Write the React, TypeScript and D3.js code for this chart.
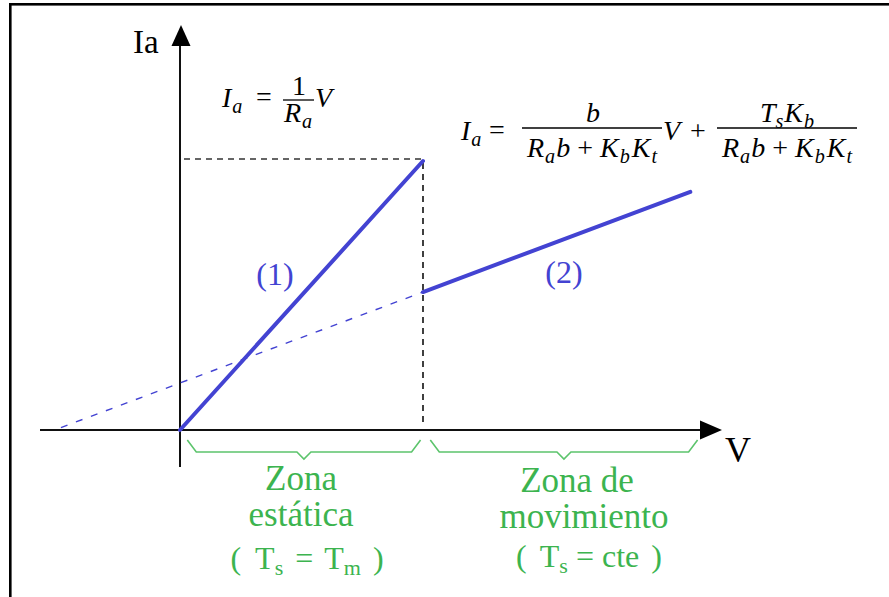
import React from "react";
import * as d3 from "d3";

// Characteristic Ia(V) of a DC motor: static zone and motion zone
const staticLine = [
  { v: 0, ia: 0 },
  { v: 1, ia: 1 },
];
const motionLine = [
  { v: 1, ia: 0.513 },
  { v: 2.1, ia: 0.885 },
];
const motionExtension = [
  { v: -0.49, ia: 0.009 },
  { v: 1, ia: 0.513 },
];
const breakPoint = { v: 1, ia: 1 };
const zones = [
  { from: 0.03, to: 0.99 },
  { from: 1.03, to: 2.13 },
];
const curveLabels = ["(1)", "(2)"];

const W = 889;
const H = 597;
const BLUE = "#4343d2";
const GREEN = "#3cb44f";
const BRACE = "#5cc46c";
const SERIF = "'Liberation Serif', 'Times New Roman', serif";

type Part = { t: string; sub?: boolean; up?: boolean; dx?: number };

function MathText({ x, y, parts, size, anchor = "start" }: { x: number; y: number; parts: Part[]; size: number; anchor?: string }) {
  let shifted = false;
  const spans = parts.map((p, i) => {
    let dy = 0;
    if (p.sub && !shifted) { dy = size * 0.22; shifted = true; }
    else if (!p.sub && shifted) { dy = -size * 0.22; shifted = false; }
    return (
      <tspan key={i} dy={dy || undefined} dx={p.dx} fontSize={p.sub ? size * 0.72 : size} fontStyle={p.up ? "normal" : "italic"}>
        {p.t}
      </tspan>
    );
  });
  return (
    <text x={x} y={y} fontFamily={SERIF} fontSize={size} textAnchor={anchor} fill="#000">
      {spans}
    </text>
  );
}

export default function App() {
  const x = d3.scaleLinear().domain([0, 1]).range([180, 423]);
  const y = d3.scaleLinear().domain([0, 1]).range([430, 161]);
  const line = d3.line<{ v: number; ia: number }>().x((d) => x(d.v)).y((d) => y(d.ia));

  const x0 = x(0);
  const y0 = y(0);

  const brace = (a: number, b: number) => {
    const xa = x(a), xb = x(b), m = (xa + xb) / 2;
    const top = y0 + 10, mid = y0 + 22, dip = y0 + 29;
    const p = d3.path();
    p.moveTo(xa, top);
    p.lineTo(xa + 9, mid);
    p.lineTo(m - 7, mid);
    p.lineTo(m, dip);
    p.lineTo(m + 7, mid);
    p.lineTo(xb - 9, mid);
    p.lineTo(xb, top);
    return p.toString();
  };

  const denom: Part[] = [
    { t: "R" }, { t: "a", sub: true, dx: 1 }, { t: "b", dx: 1 }, { t: "+", up: true, dx: 7 },
    { t: "K", dx: 7 }, { t: "b", sub: true, dx: 1 }, { t: "K", dx: 2 }, { t: "t", sub: true, dx: 1 },
  ];

  return (
    <svg width={W} height={H} style={{ position: "fixed", left: 0, top: 0, background: "#fff" }}>
      {/* frame */}
      <rect x={10.3} y={4.3} width={W + 20} height={H + 20} fill="none" stroke="#000" strokeWidth={2.6} />

      {/* axes */}
      <line x1={40} y1={y0} x2={702} y2={y0} stroke="#111" strokeWidth={2} />
      <path d={`M${722},${y0} L${700},${y0 - 9.5} L${700},${y0 + 9.5} Z`} fill="#000" />
      <line x1={x0} y1={467} x2={x0} y2={44} stroke="#111" strokeWidth={2} />
      <path d={`M${x0 + 1},25 L${x0 - 8.5},46 L${x0 + 10.5},46 Z`} fill="#000" />
      <text x={133} y={53} fontFamily={SERIF} fontSize={33} fill="#000">Ia</text>
      <text x={725} y={462} fontFamily={SERIF} fontSize={36} fill="#000">V</text>

      {/* guide lines to the break point */}
      <line x1={x0 + 4} y1={y(breakPoint.ia) - 2} x2={x(breakPoint.v)} y2={y(breakPoint.ia) - 2}
        stroke="#333" strokeWidth={1.6} strokeDasharray="6,5" />
      <line x1={x(breakPoint.v)} y1={y(breakPoint.ia) + 2} x2={x(breakPoint.v)} y2={y0 - 3}
        stroke="#111" strokeWidth={1.6} strokeDasharray="6,5" />

      {/* characteristic lines */}
      <path d={line(motionExtension) ?? ""} fill="none" stroke={BLUE} strokeWidth={1.4} strokeDasharray="7,9" />
      <path d={line(staticLine) ?? ""} fill="none" stroke={BLUE} strokeWidth={4} strokeLinecap="round" />
      <path d={line(motionLine) ?? ""} fill="none" stroke={BLUE} strokeWidth={4} strokeLinecap="round" />

      <text x={275} y={285} fontFamily={SERIF} fontSize={32} fill={BLUE} textAnchor="middle">{curveLabels[0]}</text>
      <text x={564} y={283} fontFamily={SERIF} fontSize={32} fill={BLUE} textAnchor="middle">{curveLabels[1]}</text>

      {/* Ia = V / Ra */}
      <MathText x={222} y={107} size={28} parts={[{ t: "I" }, { t: "a", sub: true, dx: 1 }]} />
      <text x={264} y={106} fontFamily={SERIF} fontSize={28} textAnchor="middle">=</text>
      <line x1={283} y1={100} x2={314} y2={100} stroke="#000" strokeWidth={1.3} />
      <text x={299} y={95} fontFamily={SERIF} fontSize={28} textAnchor="middle">1</text>
      <MathText x={298} y={122} size={28} anchor="middle" parts={[{ t: "R" }, { t: "a", sub: true, dx: 1 }]} />
      <MathText x={315} y={107} size={28} parts={[{ t: "V" }]} />

      {/* Ia in the motion zone */}
      <MathText x={461} y={140} size={28} parts={[{ t: "I" }, { t: "a", sub: true, dx: 1 }]} />
      <text x={497} y={139} fontFamily={SERIF} fontSize={28} textAnchor="middle">=</text>
      <line x1={522} y1={128} x2={662} y2={128} stroke="#000" strokeWidth={1.3} />
      <MathText x={593} y={122} size={28} anchor="middle" parts={[{ t: "b" }]} />
      <MathText x={592} y={157} size={28} anchor="middle" parts={denom} />
      <MathText x={663} y={140} size={28} parts={[{ t: "V" }]} />
      <text x={698} y={140} fontFamily={SERIF} fontSize={28} textAnchor="middle">+</text>
      <line x1={717} y1={128} x2={857} y2={128} stroke="#000" strokeWidth={1.3} />
      <MathText x={787} y={122} size={28} anchor="middle"
        parts={[{ t: "T" }, { t: "s", sub: true }, { t: "K", dx: 1 }, { t: "b", sub: true, dx: 1 }]} />
      <MathText x={787} y={157} size={28} anchor="middle" parts={denom} />

      {/* zone braces */}
      {zones.map((z, i) => (
        <path key={i} d={brace(z.from, z.to)} fill="none" stroke={BRACE} strokeWidth={1.6} />
      ))}

      {/* zone captions */}
      <g fontFamily={SERIF} fill={GREEN} textAnchor="middle">
        <text x={301} y={490} fontSize={35}>Zona</text>
        <text x={301} y={526} fontSize={35}>estática</text>
        <text x={307} y={569} fontSize={32}>
          (<tspan dx={14}>T</tspan><tspan dy={6} fontSize={22}>s</tspan>
          <tspan dy={-6} dx={12}>=</tspan><tspan dx={11}>T</tspan>
          <tspan dy={6} fontSize={22}>m</tspan><tspan dy={-6} dx={12}>)</tspan>
        </text>
        <text x={577} y={492} fontSize={35}>Zona de</text>
        <text x={584} y={528} fontSize={35}>movimiento</text>
        <text x={589} y={567} fontSize={32}>
          (<tspan dx={13}>T</tspan><tspan dy={6} fontSize={22}>s</tspan>
          <tspan dy={-6} dx={8}>=</tspan><tspan dx={8}>cte</tspan><tspan dx={12}>)</tspan>
        </text>
      </g>
    </svg>
  );
}
